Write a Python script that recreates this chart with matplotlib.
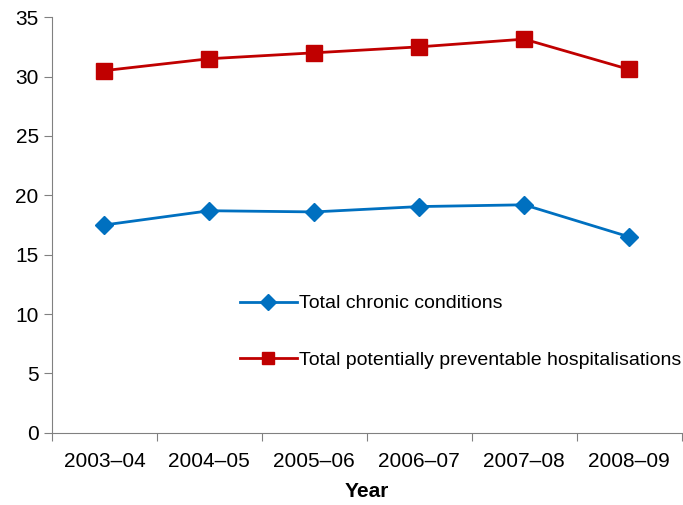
import matplotlib.pyplot as plt

plt.rcParams['font.family'] = ['Liberation Sans', 'DejaVu Sans']

years = ['2003–04', '2004–05', '2005–06', '2006–07', '2007–08', '2008–09']
chronic = [17.5, 18.7, 18.6, 19.05, 19.2, 16.5]
preventable = [30.5, 31.5, 32.0, 32.5, 33.15, 30.6]

fig = plt.figure(figsize=(6.83, 5.05), dpi=100)
ax = fig.add_axes([0.076, 0.143, 0.922, 0.823])

x = range(len(years))
ax.plot(x, chronic, color='#0070C0', lw=2, marker='D', markersize=9,
        label='Total chronic conditions')
ax.plot(x, preventable, color='#C00000', lw=2, marker='s', markersize=11,
        label='Total potentially preventable hospitalisations')

ax.set_xlim(-0.5, len(years) - 0.5)
ax.set_ylim(0, 35)
ax.set_yticks(range(0, 36, 5))
ax.set_xticks([i - 0.5 for i in range(len(years) + 1)])
ax.set_xticklabels([])
ax.set_xticks(list(x), minor=True)
ax.set_xticklabels(years, minor=True)
ax.tick_params(axis='x', which='minor', length=0, pad=14, labelsize=15)
ax.tick_params(axis='x', which='major', length=6, direction='out', color='#808080')
ax.tick_params(axis='y', length=6, direction='out', labelsize=15, color='#808080')
for s in ['top', 'right']:
    ax.spines[s].set_visible(False)
for s in ['left', 'bottom']:
    ax.spines[s].set_color('#808080')

ax.set_xlabel('Year', fontsize=15, fontweight='bold', labelpad=8)

ax.legend(loc='upper left', bbox_to_anchor=(0.298, 0.332), frameon=False,
          fontsize=14, borderpad=0, borderaxespad=0, handlelength=2.95,
          handletextpad=0.1, labelspacing=2.0, markerscale=0.85)

fig.savefig('out.png', dpi=100)
